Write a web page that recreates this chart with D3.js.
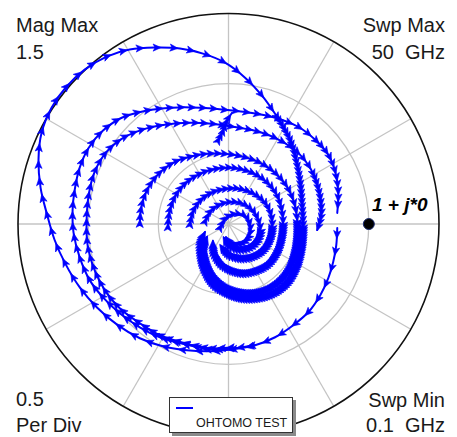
<!DOCTYPE html>
<html>
<head>
<meta charset="utf-8">
<script src="https://cdn.jsdelivr.net/npm/d3@7"></script>
<style>
  html, body { margin: 0; padding: 0; background: #fff; }
  svg { display: block; }
  text { font-family: "Liberation Sans", Arial, sans-serif; }
</style>
</head>
<body>
<svg id="chart" width="457" height="437"></svg>
<script>
// Polar display scale
const magMax = 1.5;
const perDiv = 0.5;
const ringValues = [0.5, 1.0, 1.5];
const spokeAngles = [0, 30, 60, 90, 120, 150, 180, 210, 240, 270, 300, 330];

// Reflection trace segments (real / imaginary), each in sweep order
const seg1Re = [0.775, 0.768, 0.746, 0.711, 0.654, 0.568, 0.461, 0.332, 0.189, 0.032, -0.132, -0.296, -0.468, -0.632, -0.789, -0.939, -1.061, -1.161, -1.239, -1.296, -1.339, -1.354, -1.332, -1.261, -1.161, -1.025, -0.868, -0.704, -0.525, -0.346, -0.182, -0.025, 0.118, 0.239, 0.346];
const seg1Im = [-0.029, -0.150, -0.271, -0.386, -0.507, -0.629, -0.721, -0.807, -0.864, -0.893, -0.907, -0.900, -0.871, -0.814, -0.721, -0.593, -0.450, -0.286, -0.114, 0.079, 0.257, 0.457, 0.650, 0.829, 0.971, 1.100, 1.193, 1.243, 1.257, 1.250, 1.214, 1.150, 1.043, 0.914, 0.764];

const seg2Re = [0.346, 0.439, 0.482, 0.511, 0.525, 0.532, 0.518, 0.482, 0.418, 0.325, 0.211, 0.089, -0.018, -0.111, -0.168, -0.196, -0.196, -0.168];
const seg2Im = [0.764, 0.600, 0.457, 0.300, 0.136, -0.029, -0.186, -0.314, -0.421, -0.493, -0.529, -0.529, -0.493, -0.429, -0.336, -0.229, -0.129, -0.057];

const seg3Re = [0.189, 0.032, -0.132, -0.311, -0.489, -0.632, -0.775, -0.896, -0.989, -1.061, -1.104, -1.111, -1.096, -1.061, -0.996, -0.896, -0.761, -0.589, -0.404, -0.204, -0.025, 0.154, 0.332, 0.496, 0.618, 0.711, 0.761, 0.782, 0.775];
const seg3Im = [-0.864, -0.886, -0.893, -0.857, -0.807, -0.736, -0.636, -0.521, -0.400, -0.236, -0.064, 0.100, 0.243, 0.400, 0.543, 0.664, 0.757, 0.807, 0.829, 0.829, 0.814, 0.793, 0.757, 0.693, 0.600, 0.493, 0.371, 0.229, 0.079];

const seg4Re = [0.032, -0.132, -0.311, -0.489, -0.632, -0.775, -0.882, -0.954, -1.004, -1.011, -0.996, -0.954, -0.875, -0.761, -0.618, -0.454, -0.275, -0.118, 0.032, 0.189, 0.346, 0.489, 0.589, 0.646, 0.661, 0.632];
const seg4Im = [-0.879, -0.886, -0.850, -0.793, -0.707, -0.600, -0.471, -0.329, -0.150, 0.029, 0.207, 0.371, 0.507, 0.607, 0.671, 0.707, 0.721, 0.714, 0.693, 0.664, 0.607, 0.514, 0.386, 0.229, 0.064, -0.043];

const seg5Re = [-0.632, -0.625, -0.596, -0.546, -0.475, -0.382, -0.275, -0.154, -0.025, 0.104, 0.225, 0.332, 0.418, 0.468, 0.489, 0.489, 0.468, 0.425, 0.354, 0.261, 0.154, 0.046, -0.046, -0.118, -0.161, -0.175, -0.154];
const seg5Im = [-0.007, 0.100, 0.207, 0.300, 0.379, 0.443, 0.479, 0.500, 0.500, 0.479, 0.436, 0.364, 0.264, 0.150, 0.029, -0.100, -0.221, -0.329, -0.414, -0.471, -0.493, -0.479, -0.436, -0.364, -0.271, -0.171, -0.093];

const seg6Re = [-0.432, -0.418, -0.375, -0.304, -0.204, -0.089, 0.032, 0.154, 0.254, 0.332, 0.375, 0.389, 0.375, 0.339, 0.275, 0.189, 0.096, 0.011, -0.061, -0.104, -0.111];
const seg6Im = [-0.029, 0.100, 0.207, 0.293, 0.357, 0.393, 0.400, 0.371, 0.314, 0.229, 0.121, 0.007, -0.114, -0.214, -0.293, -0.336, -0.350, -0.329, -0.279, -0.200, -0.121];

const seg7Re = [-0.275, -0.254, -0.204, -0.125, -0.025, 0.082, 0.182, 0.261, 0.304, 0.311, 0.289, 0.239, 0.161, 0.075, -0.004, -0.054];
const seg7Im = [-0.007, 0.086, 0.164, 0.221, 0.250, 0.250, 0.214, 0.150, 0.064, -0.029, -0.121, -0.193, -0.236, -0.243, -0.214, -0.157];

const seg8Re = [-0.168, -0.132, -0.068, 0.018, 0.104, 0.175, 0.218, 0.225, 0.196, 0.139, 0.068, 0.004, -0.032];
const seg8Im = [0.014, 0.086, 0.136, 0.157, 0.143, 0.093, 0.014, -0.064, -0.129, -0.171, -0.179, -0.150, -0.100];

const seg9Re = [-0.061, -0.018, 0.046, 0.118, 0.154, 0.146, 0.096, 0.025, -0.018];
const seg9Im = [-0.029, 0.043, 0.071, 0.057, -0.007, -0.086, -0.136, -0.136, -0.093];

const seg10Re = [-0.075, -0.039, -0.011, 0.025];
const seg10Im = [0.593, 0.664, 0.736, 0.793];

// segment list: arrow spacing along the drawn path (px) before / after the split point
const segments = [
  { re: seg1Re, im: seg1Im, step: 17, split: null, dense: 17 },
  { re: seg2Re, im: seg2Im, step: 4.5, split: 5, dense: 2.4 },
  { re: seg3Re, im: seg3Im, step: 11, split: 24, dense: 7 },
  { re: seg4Re, im: seg4Im, step: 9, split: 22, dense: 5 },
  { re: seg5Re, im: seg5Im, step: 7, split: 14, dense: 2.4 },
  { re: seg6Re, im: seg6Im, step: 6, split: 11, dense: 2.4 },
  { re: seg7Re, im: seg7Im, step: 5.5, split: 9, dense: 2.4 },
  { re: seg8Re, im: seg8Im, step: 5.5, split: 7, dense: 2.6 },
  { re: seg9Re, im: seg9Im, step: 5, split: 5, dense: 3 },
  { re: seg10Re, im: seg10Im, step: 5, split: null, dense: 5 }
];

// Reference marker
const markerRe = 1, markerIm = 0;
const markerLabel = "1 + j*0";

const cornerText = {
  topLeft: ["Mag Max", "1.5"],
  topRight: ["Swp Max", "50  GHz"],
  bottomLeft: ["0.5", "Per Div"],
  bottomRight: ["Swp Min", "0.1  GHz"]
};
const legendLabel = "OHTOMO TEST";

const svg = d3.select("#chart");
const cx = 228.5, cy = 224, R = 210.5;

const x = d3.scaleLinear().domain([-magMax, magMax]).range([cx - R, cx + R]);
const y = d3.scaleLinear().domain([-magMax, magMax]).range([cy + R, cy - R]);
const rs = d3.scaleLinear().domain([0, magMax]).range([0, R]);

// grid
const grid = svg.append("g");
grid.selectAll("line.spoke").data(spokeAngles).join("line")
  .attr("class", "spoke")
  .attr("x1", cx).attr("y1", cy)
  .attr("x2", d => x(magMax * Math.cos(d * Math.PI / 180)))
  .attr("y2", d => y(magMax * Math.sin(d * Math.PI / 180)))
  .attr("stroke", "#c4c4c4").attr("stroke-width", 1.3);
grid.selectAll("circle.ring").data(ringValues.filter(v => v < magMax)).join("circle")
  .attr("class", "ring")
  .attr("cx", cx).attr("cy", cy).attr("r", d => rs(d))
  .attr("fill", "none").attr("stroke", "#c4c4c4").attr("stroke-width", 1.3);
svg.append("circle").attr("cx", cx).attr("cy", cy).attr("r", rs(magMax))
  .attr("fill", "none").attr("stroke", "#111").attr("stroke-width", 1.6);

// trace segments with direction arrows spaced along the path
const line = d3.line().curve(d3.curveCatmullRom.alpha(0.5));
const traceG = svg.append("g");
const arrowG = svg.append("g");
const arrowShape = "M2,0 L-6,-3.6 L-4,0 L-6,3.6 Z";
const denseShape = "M2.5,0 L-6.5,-4.3 L-4.5,0 L-6.5,4.3 Z";
segments.forEach(seg => {
  const pts = seg.re.map((v, i) => [x(v), y(seg.im[i])]);
  const path = traceG.append("path").attr("d", line(pts))
    .attr("fill", "none").attr("stroke", "#0000ff").attr("stroke-width", 2)
    .attr("stroke-linejoin", "round").attr("stroke-linecap", "round");
  const node = path.node();
  const L = node.getTotalLength();
  let Ls = L + 1;
  if (seg.split !== null) {
    const tmp = traceG.append("path").attr("d", line(pts.slice(0, seg.split + 1)));
    Ls = tmp.node().getTotalLength();
    tmp.remove();
  }
  const arrows = [];
  let s = seg.step * 0.5;
  while (s <= L) {
    const p = node.getPointAtLength(s);
    const a = node.getPointAtLength(Math.max(0, s - 0.8));
    const b = node.getPointAtLength(Math.min(L, s + 0.8));
    const dense = s >= Ls;
    arrows.push({ x: p.x, y: p.y, ang: Math.atan2(b.y - a.y, b.x - a.x) * 180 / Math.PI, dense });
    s += dense ? seg.dense : seg.step;
  }
  arrowG.append("g").selectAll("path").data(arrows).join("path")
    .attr("d", d => d.dense && seg.dense < 3 ? denseShape : arrowShape)
    .attr("transform", d => `translate(${d.x},${d.y}) rotate(${d.ang})`)
    .attr("fill", "#0000ff").attr("stroke", "#0000ff").attr("stroke-width", 0.6)
    .attr("stroke-linejoin", "round");
});

// marker
svg.append("circle").attr("cx", x(markerRe)).attr("cy", y(markerIm)).attr("r", 5.5)
  .attr("fill", "#000").attr("stroke", "#1c2c70").attr("stroke-width", 1);
svg.append("text").attr("x", 372).attr("y", 211)
  .attr("font-size", 19).attr("font-weight", "bold").attr("font-style", "italic")
  .attr("fill", "#000").style("white-space", "pre").text(markerLabel);

// corner labels
const tc = "#1a1a1a";
function corner(lines, xPos, ys, anchor) {
  lines.forEach((t, i) => svg.append("text").attr("x", xPos).attr("y", ys[i])
    .attr("font-size", 20).attr("fill", tc).attr("text-anchor", anchor)
    .style("white-space", "pre").text(t));
}
corner(cornerText.topLeft, 16, [32, 59], "start");
corner(cornerText.topRight, 445, [32, 59], "end");
corner(cornerText.bottomLeft, 16, [406, 432], "start");
corner(cornerText.bottomRight, 445, [407, 432], "end");

// legend
const lg = svg.append("g");
lg.append("rect").attr("x", 172).attr("y", 400).attr("width", 124).attr("height", 36).attr("fill", "#8a8a8a");
lg.append("rect").attr("x", 169.5).attr("y", 397.5).attr("width", 123).attr("height", 35)
  .attr("fill", "#fff").attr("stroke", "#333").attr("stroke-width", 1);
lg.append("line").attr("x1", 176).attr("x2", 193).attr("y1", 408).attr("y2", 408)
  .attr("stroke", "#0000ff").attr("stroke-width", 2);
lg.append("text").attr("x", 196).attr("y", 427).attr("font-size", 12.5).attr("fill", tc).text(legendLabel);
</script>
</body>
</html>
